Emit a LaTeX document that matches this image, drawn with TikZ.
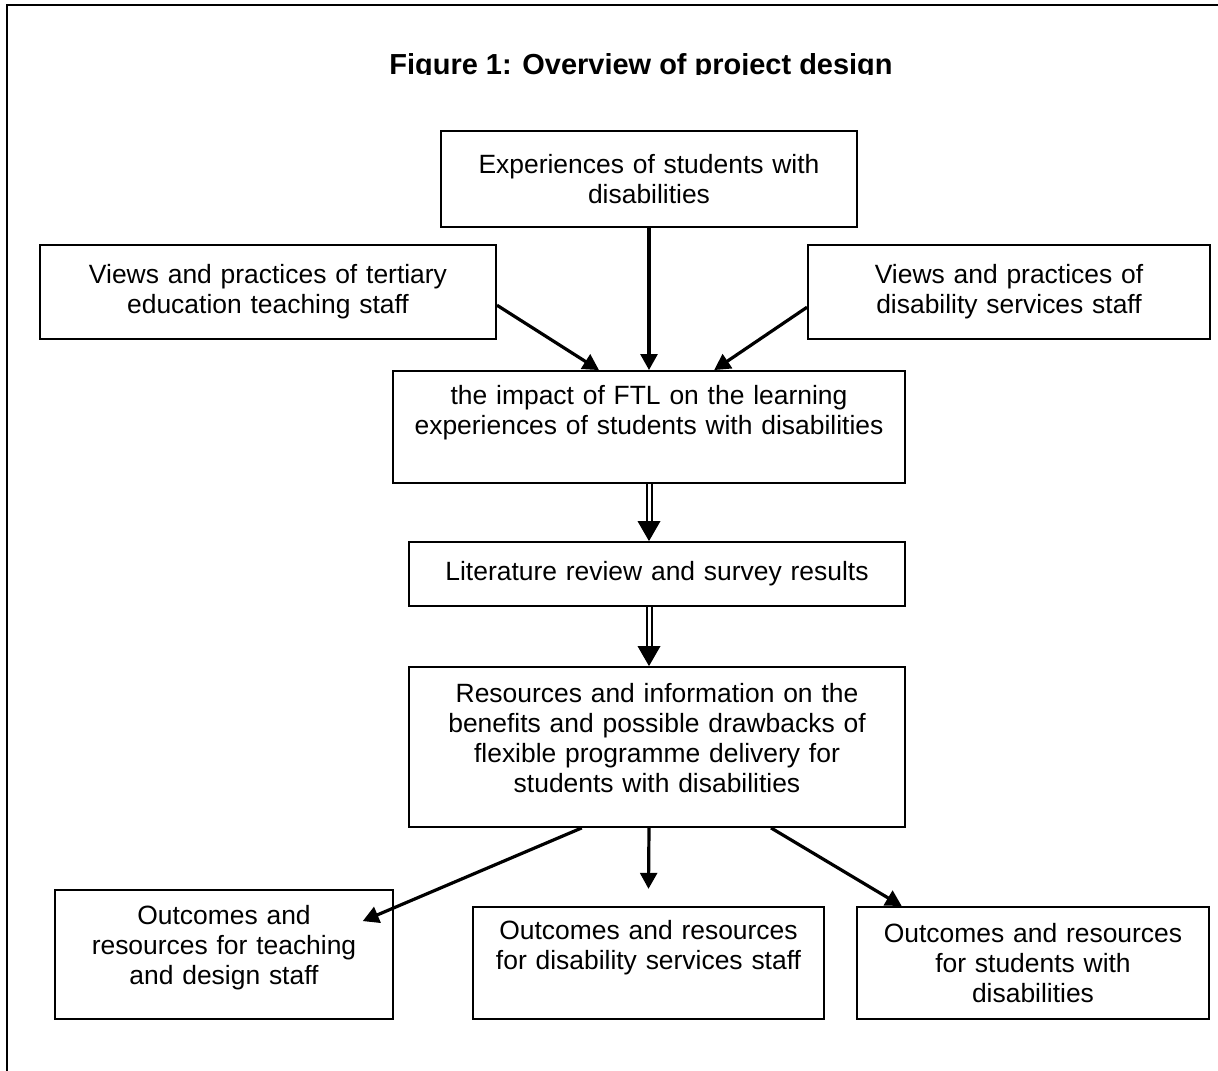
\documentclass[tikz,border=0pt]{standalone}
\usepackage{fontspec}
\setmainfont{Liberation Sans}
\usetikzlibrary{arrows.meta}

\tikzset{
  box/.style={draw, line width=0.045cm, inner sep=0pt, align=center,
    font=\fontsize{18.8}{21.3}\selectfont},
  lift/.style={execute at end node={\par\vspace*{#1}}},
  link/.style={line width=0.08cm, -{Triangle[length=0.4cm,width=0.42cm]}},
  twin/.style={double, double distance=0.075cm, line width=0.05cm, shorten >=0.45cm}
}

\begin{document}
\begin{tikzpicture}[x=0.025cm,y=-0.025cm]
\useasboundingbox (0,0) rectangle (1218,1071);
\draw[line width=0.05cm] (1218,5) -- (7,5) -- (7,1071);

\begin{scope}
\clip (0,0) rectangle (1218,75);
\node[anchor=base, font=\fontsize{20.6}{24}\selectfont\bfseries] (title) at (641,75) {Figure 1: Overview of project design};
\end{scope}

% sources
\node[box, minimum width=10.4cm, minimum height=2.4cm, text width=10.1cm] (exp) at (649,179) {Experiences of students with\\disabilities};
\node[box, minimum width=11.4cm, minimum height=2.35cm, text width=11.1cm] (teach) at (268,292) {Views and practices of tertiary\\education teaching staff};
\node[box, minimum width=10.05cm, minimum height=2.35cm, text width=9.75cm] (dss) at (1009,292) {Views and practices of\\disability services staff};

% project core
\node[box, lift=0.7cm, minimum width=12.8cm, minimum height=2.8cm, text width=12.5cm] (impact) at (649,427) {the impact of FTL on the learning\\experiences of students with disabilities};
\node[box, minimum width=12.4cm, minimum height=1.6cm, text width=12.1cm] (lit) at (657,574) {Literature review and survey results};
\node[box, lift=0.45cm, minimum width=12.4cm, minimum height=4cm, text width=12.1cm] (res) at (657,747) {Resources and information on the\\benefits and possible drawbacks of\\flexible programme delivery for\\students with disabilities};

% outcomes
\node[box, lift=0.35cm, minimum width=8.45cm, minimum height=3.225cm, text width=8.15cm] (outA) at (224,954.5) {Outcomes and\\resources for teaching\\and design staff};
\node[box, lift=0.75cm, minimum width=8.775cm, minimum height=2.8cm, text width=8.45cm] (outB) at (648.5,963) {Outcomes and resources\\for disability services staff};
\node[box, minimum width=8.8cm, minimum height=2.8cm, text width=8.5cm] (outC) at (1033,963) {Outcomes and resources\\for students with\\disabilities};

\draw[link] (exp) -- (impact);
\draw[link] ([yshift=-0.33cm]teach.east) -- ([xshift=-1.25cm]impact.north);
\draw[link] ([yshift=-0.38cm]dss.west) -- ([xshift=1.63cm]impact.north);

\draw[twin] (impact.south) -- (impact.south |- lit.north);
\fill (impact.south |- lit.north) -- ++(-11.5,-20) -- ++(23,0) -- cycle;
\draw[twin] (impact.south |- lit.south) -- (impact.south |- res.north);
\fill (impact.south |- res.north) -- ++(-11.5,-20) -- ++(23,0) -- cycle;

\draw[link] ([xshift=-1.88cm]res.south) -- ([xshift=-0.78cm,yshift=-0.8cm]outA.north east);
\draw[link] ([xshift=-0.2cm]res.south) -- ([yshift=0.43cm]outB.north);
\draw[link] ([xshift=2.85cm]res.south) -- ([xshift=-3.28cm]outC.north);
\end{tikzpicture}
\end{document}
